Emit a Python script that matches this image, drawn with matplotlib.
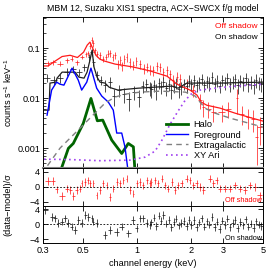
import numpy as np
import matplotlib
matplotlib.use("Agg")
import matplotlib.pyplot as plt

plt.rcParams['font.family'] = ['Liberation Sans', 'DejaVu Sans']
plt.rcParams['mathtext.fontset'] = 'custom'
plt.rcParams['mathtext.rm'] = 'Liberation Sans'
FS = 6.6

TITLE = "MBM 12, Suzaku XIS1 spectra, ACX\u2212SWCX f/g model"
XTICKS = [0.3, 0.5, 1, 2, 3, 5]
XTICKLABELS = ["0.3", "0.5", "1", "2", "3", "5"]

# ---- model components (keV, counts/s/keV) ----
halo_E = [0.37, 0.415, 0.442, 0.502, 0.554, 0.601, 0.644, 0.722, 0.821, 0.893, 0.953, 0.975]
halo_v = [3e-4, 9.9e-4, 1.24e-3, 3.12e-3, 9.86e-3, 3.52e-3, 3.63e-3, 1.45e-3, 7.8e-4, 1.24e-3, 1.06e-3, 3e-4]

fg_E = [0.316, 0.335, 0.357, 0.373, 0.392, 0.435, 0.471, 0.492, 0.525, 0.554, 0.596, 0.636, 0.692, 0.737, 0.770, 0.821, 0.856, 0.895]
fg_v = [4.57e-3, 1.45e-2, 2.09e-2, 1.9e-2, 1.82e-2, 3.98e-2, 2.29e-2, 1.45e-2, 2.09e-2, 3.98e-2, 1.58e-2, 1.1e-2, 8.3e-3, 5.75e-3, 2.0e-3, 2.0e-3, 1.05e-3, 3e-4]

eg_E = [0.300, 0.308, 0.373, 0.482, 0.547, 0.663, 0.754, 0.856, 1.04, 1.34, 1.85, 2.10, 2.38, 2.71, 3.28, 3.98, 5.0]
eg_v = [3.0e-4, 3.8e-4, 1.0e-3, 2.51e-3, 3.98e-3, 7.94e-3, 1.05e-2, 1.2e-2, 1.32e-2, 1.38e-2, 1.32e-2, 1.1e-2, 6.3e-3, 5.0e-3, 3.98e-3, 3.3e-3, 2.63e-3]

xy_E = [0.304, 0.424, 0.622, 0.912, 1.106, 1.257, 1.374, 1.523, 1.687, 1.85, 2.02, 2.24, 2.71, 3.50, 5.0]
xy_v = [6.0e-4, 5.9e-4, 5.6e-4, 5.75e-4, 6.6e-4, 8.7e-4, 1.45e-3, 3.0e-3, 5.5e-3, 9.1e-3, 1.26e-2, 1.45e-2, 1.58e-2, 1.74e-2, 1.9e-2]

off_model_E = [0.300, 0.320, 0.350, 0.383, 0.424, 0.466, 0.504, 0.528, 0.547, 0.566, 0.590, 0.622, 0.660, 0.754, 0.949, 1.18, 1.466, 1.665, 1.966, 2.15, 2.27, 2.44, 2.89, 3.50, 4.35, 5.0]
off_model_v = [4.4e-2, 4.4e-2, 5.5e-2, 6.8e-2, 7.2e-2, 6.5e-2, 8.3e-2, 1.15e-1, 1.32e-1, 1.0e-1, 7.2e-2, 6.0e-2, 5.5e-2, 4.8e-2, 4.2e-2, 3.5e-2, 2.75e-2, 1.9e-2, 1.45e-2, 1.15e-2, 8.3e-3, 7.2e-3, 6.3e-3, 5.0e-3, 3.98e-3, 3.47e-3]

on_model_E = [0.300, 0.324, 0.328, 0.354, 0.359, 0.383, 0.452, 0.475, 0.507, 0.527, 0.547, 0.562, 0.576, 0.599, 0.622, 0.663, 0.698, 0.725, 0.783, 1.01, 1.257, 1.56, 1.687, 1.89, 2.89, 5.0]
on_model_v = [5.75e-3, 5.75e-3, 2.0e-2, 2.09e-2, 2.51e-2, 3.31e-2, 3.31e-2, 2.63e-2, 2.51e-2, 3.31e-2, 5.75e-2, 9.1e-2, 4.17e-2, 2.63e-2, 2.09e-2, 2.0e-2, 1.66e-2, 1.58e-2, 1.45e-2, 1.58e-2, 1.66e-2, 1.74e-2, 1.58e-2, 2.0e-2, 2.0e-2, 2.09e-2]

# ---- off-shadow data ----
off_E = [0.318, 0.342, 0.373, 0.410, 0.433, 0.462, 0.492, 0.520, 0.535, 0.548, 0.558, 0.568, 0.583, 0.600, 0.622, 0.649, 0.672, 0.690, 0.707, 0.730, 0.754, 0.786, 0.805, 0.821, 0.850, 0.875, 0.910, 0.953, 0.990, 1.040, 1.085, 1.130, 1.180, 1.230, 1.290, 1.340, 1.400, 1.460, 1.530, 1.590, 1.660, 1.730, 1.890, 2.050, 2.240, 2.330, 2.490, 2.650, 2.950, 3.210, 3.570, 3.810, 4.150, 4.420, 4.620, 4.810]
off_v = [0.050, 0.053, 0.049, 0.057, 0.062, 0.053, 0.067, 0.075, 0.080, 0.110, 0.145, 0.125, 0.091, 0.078, 0.072, 0.062, 0.068, 0.078, 0.080, 0.066, 0.072, 0.049, 0.058, 0.044, 0.060, 0.067, 0.052, 0.046, 0.055, 0.049, 0.040, 0.042, 0.037, 0.036, 0.044, 0.042, 0.033, 0.036, 0.030, 0.023, 0.027, 0.024, 0.0197, 0.0145, 0.0091, 0.0067, 0.0062, 0.0053, 0.0053, 0.0062, 0.0099, 0.0049, 0.0042, 0.0039, 0.00166, 0.00267]
off_xe = [0.012, 0.012, 0.014, 0.010, 0.010, 0.012, 0.012, 0.008, 0.006, 0.005, 0.005, 0.005, 0.006, 0.006, 0.008, 0.008, 0.006, 0.006, 0.006, 0.006, 0.007, 0.008, 0.006, 0.008, 0.008, 0.008, 0.008, 0.010, 0.010, 0.012, 0.012, 0.012, 0.012, 0.014, 0.014, 0.016, 0.016, 0.016, 0.020, 0.020, 0.022, 0.022, 0.04, 0.05, 0.06, 0.05, 0.08, 0.08, 0.12, 0.10, 0.05, 0.10, 0.12, 0.12, 0.10, 0.15]
off_ye = [0.006, 0.006, 0.006, 0.006, 0.007, 0.006, 0.007, 0.008, 0.009, 0.015, 0.020, 0.018, 0.012, 0.010, 0.010, 0.009, 0.010, 0.012, 0.012, 0.011, 0.012, 0.010, 0.011, 0.009, 0.012, 0.013, 0.011, 0.010, 0.011, 0.010, 0.009, 0.009, 0.008, 0.008, 0.009, 0.009, 0.008, 0.008, 0.007, 0.006, 0.006, 0.006, 0.005, 0.004, 0.003, 0.0025, 0.0022, 0.002, 0.002, 0.0022, 0.005, 0.002, 0.0018, 0.0018, 0.0012, 0.0015]

# ---- on-shadow data ----
on_E = [0.314, 0.345, 0.373, 0.406, 0.440, 0.475, 0.510, 0.540, 0.558, 0.572, 0.599, 0.626, 0.663, 0.707, 0.744, 0.793, 0.845, 0.900, 0.960, 1.024, 1.077, 1.127, 1.18,
        1.20, 1.24, 1.28, 1.32, 1.36, 1.40, 1.45, 1.50, 1.55, 1.60, 1.65, 1.70, 1.76, 1.82, 1.88, 1.94, 2.00, 2.07, 2.14, 2.21, 2.28, 2.36, 2.44, 2.52, 2.60, 2.69, 2.78, 2.87, 2.97, 3.07, 3.17, 3.28, 3.39, 3.50, 3.62, 3.74, 3.87, 4.00, 4.14, 4.28, 4.43, 4.58, 4.74, 4.90]
on_v = [2.57e-2, 2.29e-2, 2.51e-2, 3.36e-2, 3.8e-2, 3.31e-2, 4.17e-2, 6.6e-2, 8.3e-2, 5.25e-2, 2.88e-2, 2.29e-2, 1.82e-2, 2.09e-2, 1.1e-2, 1.45e-2, 1.2e-2, 9.5e-3, 1.32e-2, 1.05e-2, 1.74e-2, 1.9e-2, 1.58e-2,
        0.0150, 0.0185, 0.0140, 0.0200, 0.0170, 0.0215, 0.0160, 0.0190, 0.0145, 0.0175, 0.0200, 0.0150, 0.0165, 0.0195, 0.0175, 0.0225, 0.0190, 0.0230, 0.0180, 0.0210, 0.0245, 0.0185, 0.0220, 0.0200, 0.0260, 0.0190, 0.0225, 0.0175, 0.0235, 0.0205, 0.0250, 0.0190, 0.0215, 0.0240, 0.0180, 0.0225, 0.0200, 0.0250, 0.0195, 0.0215, 0.0180, 0.0230, 0.0205, 0.0190]
on_xe = [0.014, 0.016, 0.014, 0.016, 0.016, 0.016, 0.016, 0.010, 0.008, 0.008, 0.012, 0.012, 0.016, 0.020, 0.020, 0.025, 0.025, 0.028, 0.028, 0.030, 0.020, 0.020, 0.020,
         0.02, 0.02, 0.02, 0.02, 0.02, 0.02, 0.025, 0.025, 0.025, 0.025, 0.025, 0.025, 0.03, 0.03, 0.03, 0.03, 0.03, 0.035, 0.035, 0.035, 0.035, 0.04, 0.04, 0.04, 0.04, 0.045, 0.045, 0.045, 0.05, 0.05, 0.05, 0.055, 0.055, 0.055, 0.06, 0.06, 0.065, 0.065, 0.07, 0.07, 0.075, 0.075, 0.08, 0.08]
on_ye = [0.005, 0.005, 0.005, 0.006, 0.006, 0.006, 0.007, 0.010, 0.012, 0.009, 0.006, 0.005, 0.005, 0.005, 0.004, 0.004, 0.004, 0.004, 0.004, 0.004, 0.005, 0.005, 0.005,
         0.005, 0.005, 0.005, 0.005, 0.005, 0.005, 0.005, 0.005, 0.005, 0.005, 0.005, 0.005, 0.005, 0.005, 0.005, 0.006, 0.005, 0.006, 0.005, 0.006, 0.006, 0.005, 0.006, 0.006, 0.007, 0.006, 0.006, 0.005, 0.006, 0.006, 0.007, 0.006, 0.006, 0.007, 0.006, 0.006, 0.006, 0.007, 0.006, 0.006, 0.006, 0.007, 0.006, 0.006]

# ---- residuals ----
off_res_E = [0.320, 0.342, 0.357, 0.381, 0.406, 0.424, 0.443, 0.462, 0.482, 0.492, 0.514, 0.535, 0.547, 0.570, 0.596, 0.622, 0.649, 0.678, 0.707, 0.737, 0.770, 0.803, 0.838, 0.875, 0.912, 0.953, 0.995, 1.04, 1.08, 1.13, 1.18, 1.20, 1.257, 1.31, 1.37, 1.43, 1.49, 1.56, 1.62, 1.69, 1.77, 1.88, 1.96, 2.05, 2.14, 2.24, 2.33, 2.55, 2.65, 2.77, 2.89, 3.08, 3.28, 3.50, 3.73, 3.98, 4.24, 4.52, 4.81]
off_res = [1.5, 1.5, -0.7, -2.4, -0.5, -0.9, -2.4, -0.9, -0.5, 0.9, 1.3, 1.7, 0.9, 0.9, -2.3, -0.9, 0.9, 0.4, -2.7, -0.5, 1.3, 0.9, 1.7, 2.2, -0.9, -1.8, 0.9, 1.3, 0.4, 1.7, 0.9, 1.3, 1.7, 0.9, 2.2, 0.4, -0.5, 1.3, -0.9, 0.4, 0.9, 2.2, 1.7, 0.4, 0.9, 0.0, -0.9, 2.2, 0.9, 1.7, -0.5, -0.5, -0.5, 0.4, -0.5, -0.9, 0.4, 0.0, -2.3]
off_res_xe = [0.012, 0.010, 0.006, 0.014, 0.010, 0.008, 0.008, 0.008, 0.006, 0.005, 0.006, 0.006, 0.005, 0.005, 0.006, 0.008, 0.008, 0.006, 0.008, 0.006, 0.008, 0.006, 0.008, 0.008, 0.010, 0.010, 0.010, 0.012, 0.012, 0.012, 0.012, 0.010, 0.014, 0.014, 0.016, 0.016, 0.016, 0.020, 0.020, 0.022, 0.03, 0.04, 0.03, 0.04, 0.04, 0.05, 0.05, 0.06, 0.06, 0.06, 0.07, 0.09, 0.10, 0.10, 0.10, 0.12, 0.12, 0.12, 0.15]

on_res_E = [0.308, 0.338, 0.350, 0.365, 0.381, 0.398, 0.415, 0.433, 0.452, 0.471, 0.492, 0.514, 0.535, 0.559, 0.570, 0.596, 0.663, 0.707, 0.770, 0.821, 0.893, 0.953, 0.995, 1.04, 1.08, 1.13, 1.18,
            1.20, 1.24, 1.28, 1.32, 1.36, 1.40, 1.45, 1.50, 1.55, 1.60, 1.65, 1.70, 1.76, 1.82, 1.88, 1.94, 2.00, 2.07, 2.14, 2.21, 2.28, 2.36, 2.44, 2.52, 2.60, 2.69, 2.78, 2.87, 2.97, 3.07, 3.17, 3.28, 3.39, 3.50, 3.62, 3.74, 3.87, 4.00, 4.14, 4.28, 4.43, 4.58, 4.74, 4.90]
on_res = [3.8, 2.0, 1.6, 0.3, 0.7, 1.6, 0.3, -0.6, -1.5, 1.1, 0.3, 2.5, 2.0, 1.6, 0.7, 0.3, -2.9, -1.5, -2.0, -0.6, -2.4, 1.1, -1.1, 1.6, 1.6, 0.3, -0.2,
          0.5, 1.8, -0.5, 2.3, 1.0, 2.5, 0.2, 1.2, -0.8, 0.6, 1.5, -0.3, 0.4, 0.9, -0.5, 1.2, -0.2, 1.1, -0.8, 0.5, 1.6, -0.6, 0.8, -0.1, 1.9, -0.7, 0.7, -1.2, 1.0, -0.2, 1.5, -0.8, 0.3, 1.2, -1.1, 0.6, -0.3, 1.3, -0.6, 0.2, -1.0, 0.8, -0.1, -0.5]
on_res_xe = [0.010, 0.010, 0.008, 0.008, 0.010, 0.010, 0.010, 0.010, 0.010, 0.010, 0.010, 0.010, 0.010, 0.008, 0.008, 0.010, 0.020, 0.020, 0.025, 0.025, 0.030, 0.025, 0.020, 0.020, 0.020, 0.020, 0.020,
             0.02, 0.02, 0.02, 0.02, 0.02, 0.02, 0.025, 0.025, 0.025, 0.025, 0.025, 0.025, 0.03, 0.03, 0.03, 0.03, 0.03, 0.035, 0.035, 0.035, 0.035, 0.04, 0.04, 0.04, 0.04, 0.045, 0.045, 0.045, 0.05, 0.05, 0.05, 0.055, 0.055, 0.055, 0.06, 0.06, 0.065, 0.065, 0.07, 0.07, 0.075, 0.075, 0.08, 0.08]

RED = '#ff1a1a'
fig = plt.figure(figsize=(2.74, 2.74), dpi=100)
L, W = 43/274, 220/274
ax = fig.add_axes([L, 1-168/274, W, 151/274])
ax2 = fig.add_axes([L, 1-205.5/274, W, 37.5/274])
ax3 = fig.add_axes([L, 1-243/274, W, 37.5/274])

eb = dict(fmt='none', elinewidth=0.7, capsize=0)
ax.errorbar(off_E, off_v, xerr=off_xe, yerr=off_ye, ecolor=RED, alpha=0.75, **eb)
ax.errorbar(on_E, on_v, xerr=on_xe, yerr=on_ye, ecolor='#202020', alpha=0.8, **eb)
ax.plot(off_model_E, off_model_v, color=RED, lw=0.9)
ax.plot(on_model_E, on_model_v, color='#202020', lw=0.9)
ax.plot(halo_E, halo_v, color='#006400', lw=2.0, label='Halo')
ax.plot(fg_E, fg_v, color='#0000ff', lw=1.0, label='Foreground')
ax.plot(eg_E, eg_v, color='#808080', lw=1.0, ls=(0, (4, 3)), label='Extragalactic')
ax.plot(xy_E, xy_v, color='#a040f0', lw=1.2, ls=(0, (1, 2)), label='XY Ari')

ax.set_xscale('log'); ax.set_yscale('log')
ax.set_xlim(0.3, 5); ax.set_ylim(4e-4, 0.42)
ax.set_yticks([1e-3, 1e-2, 1e-1]); ax.set_yticklabels(['0.001', '0.01', '0.1'])
ax.set_ylabel('counts s$^{-1}$ keV$^{-1}$', fontsize=FS, labelpad=2)
ax.set_title(TITLE, fontsize=6.3, pad=4)
ax.text(0.977, 0.934, 'Off shadow', color='red', fontsize=FS-0.6, ha='right', va='center', transform=ax.transAxes)
ax.text(0.977, 0.861, 'On shadow', color='black', fontsize=FS-0.6, ha='right', va='center', transform=ax.transAxes)
leg = ax.legend(loc='upper left', bbox_to_anchor=(0.56, 0.315), frameon=False, fontsize=FS,
                handlelength=2.4, labelspacing=0.12, borderpad=0, handletextpad=0.6, borderaxespad=0)

ax2.errorbar(off_res_E, off_res, xerr=off_res_xe, yerr=1.0, ecolor=RED, alpha=0.75, **eb)
ax3.errorbar(on_res_E, on_res, xerr=on_res_xe, yerr=1.0, ecolor='#202020', alpha=0.8, **eb)
for a in (ax2, ax3):
    a.set_xscale('log'); a.set_xlim(0.3, 5); a.set_ylim(-5, 5)
    a.axhline(0, color='black', lw=0.6, ls=(0, (2, 2)))
    a.set_yticks([-4, 0, 4])
ax2.text(0.995, 0.12, 'Off shadow', color='red', fontsize=FS-1.3, ha='right', va='center', transform=ax2.transAxes)
ax3.text(0.995, 0.12, 'On shadow', color='black', fontsize=FS-1.3, ha='right', va='center', transform=ax3.transAxes)

for a in (ax, ax2, ax3):
    a.set_xticks(XTICKS)
    a.set_xticks([], minor=True)
    a.tick_params(which='both', direction='in', top=True, right=True, labelsize=FS, pad=2)
    a.tick_params(which='major', length=3.5, width=0.6)
    a.tick_params(which='minor', length=2, width=0.5)
    for s in a.spines.values():
        s.set_linewidth(0.7)
ax.spines['bottom'].set_color('#808080'); ax.spines['bottom'].set_linewidth(1.5)
ax.tick_params(labelbottom=False)
ax2.tick_params(labelbottom=False)
ax3.set_xticklabels(XTICKLABELS)
ax3.set_xlabel('channel energy (keV)', fontsize=FS, labelpad=3)
fig.text(0.03, 1-205/274, '(data\u2212model)/\u03c3', rotation=90, fontsize=FS, ha='center', va='center')

fig.savefig('out.png', dpi=100)
